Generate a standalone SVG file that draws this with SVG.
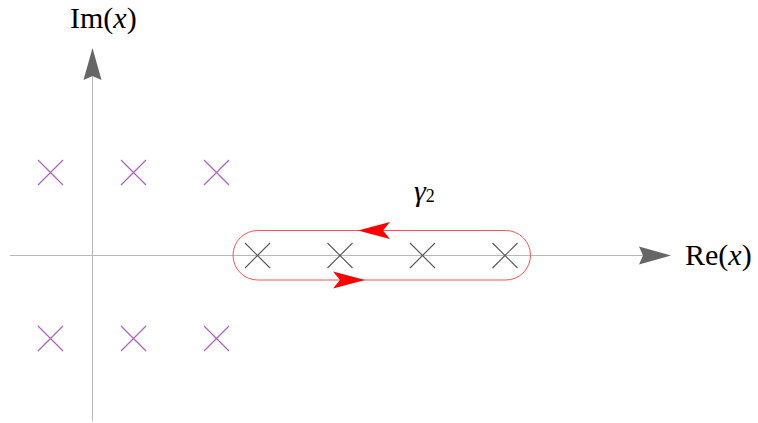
<svg xmlns="http://www.w3.org/2000/svg" width="758" height="423" viewBox="0 0 758 423">
<style>
.axis{stroke:#b8b8b8;stroke-width:1;fill:none}
.head{fill:#666666;stroke:none}
.px{stroke:#b060c0;stroke-width:1.2;fill:none}
.gx{stroke:#555555;stroke-width:1.1;fill:none}
.contour{stroke:#ff5050;stroke-width:1;fill:none}
.arr{fill:#ff0000;stroke:none}
.lbl{font-family:"Liberation Serif","DejaVu Serif",serif;font-size:30px;fill:#000}
</style>
<g id="connectors">
<g id="im-axis">
<line class="axis" x1="92.5" y1="421" x2="92.5" y2="70"/>
<path class="head" d="M92.5,48 L101.5,80 L92.5,76 L83.5,80 Z"/>
</g>
<g id="re-axis">
<line class="axis" x1="10" y1="255.5" x2="645" y2="255.5"/>
<path class="head" d="M671,255.5 L639,264.5 L643,255.5 L639,246.5 Z"/>
</g>
<g id="gamma2-contour">
<rect class="contour" x="233" y="230.5" width="297.5" height="49.5" rx="24.75" ry="24.75"/>
<path class="arr" d="M358,230.5 L390,222 L383,230.5 L390,239 Z"/>
<path class="arr" d="M365,280 L333,271.5 L340,280 L333,288.5 Z"/>
</g>
</g>
<g id="poles-upper">
<path class="px" d="M38,160 L63,185 M38,185 L63,160"/>
<path class="px" d="M121,160 L146,185 M121,185 L146,160"/>
<path class="px" d="M204,160 L229,185 M204,185 L229,160"/>
</g>
<g id="poles-lower">
<path class="px" d="M38,326 L63,351 M38,351 L63,326"/>
<path class="px" d="M121,326 L146,351 M121,351 L146,326"/>
<path class="px" d="M204,326 L229,351 M204,351 L229,326"/>
</g>
<g id="poles-real">
<path class="gx" d="M245,243 L270,268 M245,268 L270,243"/>
<path class="gx" d="M327.5,243 L352.5,268 M327.5,268 L352.5,243"/>
<path class="gx" d="M410,243 L435,268 M410,268 L435,243"/>
<path class="gx" d="M492.5,243 L517.5,268 M492.5,268 L517.5,243"/>
</g>
<g id="label-im">
<text class="lbl" x="70" y="28">Im(<tspan font-style="italic">x</tspan>)</text>
</g>
<g id="label-re">
<text class="lbl" x="685" y="265">Re(<tspan font-style="italic">x</tspan>)</text>
</g>
<g id="label-gamma2">
<text class="lbl" x="414" y="201" font-size="29"><tspan font-style="italic">γ</tspan><tspan font-size="18" dy="1">2</tspan></text>
</g>
</svg>
